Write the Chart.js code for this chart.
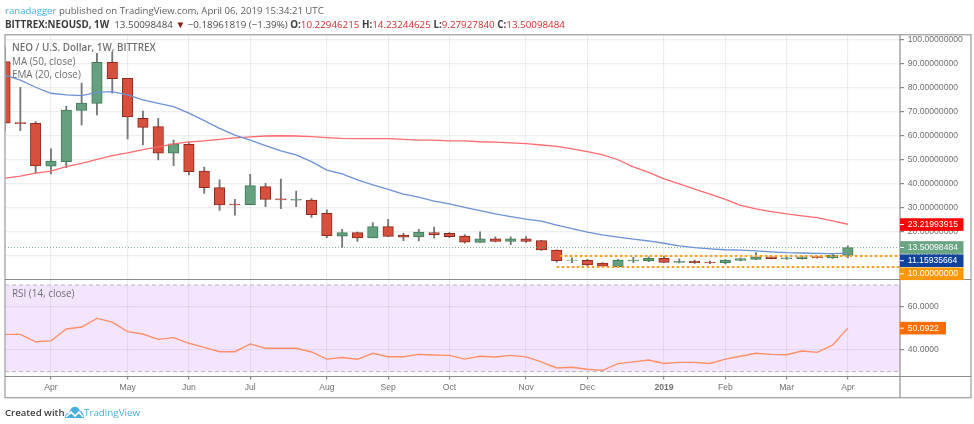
<!DOCTYPE html>
<html>
<head>
<meta charset="utf-8">
<title>NEO / U.S. Dollar</title>
<script src="https://cdn.jsdelivr.net/npm/chart.js@4/dist/chart.umd.min.js"></script>
<style>
html,body{margin:0;padding:0;background:#fff;width:974px;height:424px;overflow:hidden}
#wrap{position:relative;width:974px;height:424px;filter:blur(0.35px)}
canvas{position:absolute;left:0;top:0}
.t{position:absolute;white-space:nowrap;font-family:"Open Sans",sans-serif}
#h1{left:5px;top:3px;font-size:9.6px;line-height:15px;color:#606060}
#h1 b{font-weight:400;color:#45b0e0}
#h2{left:5px;top:17px;font-size:9.8px;line-height:15px;color:#4a4a4a}
#h2 b{font-weight:700;color:#3c3c3c}
#h2 i{font-style:normal;color:#d32f2f}
#h2 u{text-decoration:none;color:#8b1a10}
.leg{left:12px;font-size:9.9px;line-height:13px;color:#707070}
#footA{left:5px;top:406px;font-size:9.6px;line-height:14px;color:#3c3c3c;font-weight:600}
#footB{left:84px;top:406px;font-size:9.8px;line-height:14px;color:#45b0e0}
#logo{position:absolute;left:65px;top:406px}
</style>
</head>
<body>
<div id="wrap">
<canvas id="c" width="974" height="424"></canvas>
<div class="t" id="h1"><b>ranadagger</b> published on TradingView.com, April 06, 2019 15:34:21 UTC</div>
<div class="t" id="h2"><b>BITTREX:NEOUSD, 1W</b>&nbsp; 13.50098484 <u>▼</u> −0.18961819 (−1.39%) <b>O:</b><i>10.22946215</i> <b>H:</b><i>14.23244625</i> <b>L:</b><i>9.27927840</i> <b>C:</b><i>13.50098484</i></div>
<div class="t leg" style="top:41px;font-weight:600">NEO / U.S. Dollar, 1W, BITTREX</div>
<div class="t leg" style="top:54.5px">MA (50, close)</div>
<div class="t leg" style="top:68px">EMA (20, close)</div>
<div class="t leg" style="top:287px">RSI (14, close)</div>
<div class="t" id="footA">Created with</div>
<svg id="logo" width="19" height="13" viewBox="0 0 19 13"><path d="M0 12 C0 8 2 7 4 7 C5 3 8 0 11 1 C13 1 14 3 15 5 C17 5 19 8 19 12 Z" fill="#45b0e0"/><path d="M1 11 L6 6 L10 10 L14 6 L18 11" fill="none" stroke="#fff" stroke-width="1.6"/></svg>
<div class="t" id="footB">TradingView</div>
</div>
<script>
const opens  = [91,65.6,65.3,47.4,49.3,70.7,73.6,90.7,84,67.4,63.9,52.8,56.5,45.4,38.5,31.6,31.4,38.9,33.8,33.3,33.3,27.8,18.3,19.7,17.5,22.2,18.75,17.9,19.7,19.4,18.3,15.7,17.1,16.1,17.1,16.4,12.5,8.1,8.2,7,5.55,7.9,8,9,7.3,7.8,7.5,7.1,8.1,8.6,9.6,8.9,8.9,9.7,9.2,10.22946215];
const closes = [65.3,65.1,47.5,49.5,70.8,73.75,90.7,83.9,67.9,63.6,52.8,56.7,45.1,38.5,31.25,31.3,39.3,33.6,33.4,33.6,27.2,18.5,19.7,17.5,22.2,18.2,17.8,20,18.9,18,15.8,17.1,16.1,17.1,16.1,12.5,8,8.3,6.25,5.8,8.3,8.3,9,7.3,7.8,7.2,7.1,8.3,8.9,9.6,8.9,9.2,9.6,9.3,10.3,13.50098484];
const highs  = [97,80.3,66,54.6,72.5,82,94.4,95,84,70.4,67.4,58.3,57,47,41.7,33.6,44,40.3,42,37,33.9,29.2,21.1,20,23.9,25.3,19.4,21.1,22,19.7,18.9,20.1,18,18,18.1,16.5,12.6,9.2,8.6,7.2,8.6,9.4,9.6,10,8.8,8.3,7.9,8.5,9.1,11.4,9.9,9.4,9.9,10,10.7,14.23244625];
const lows   = [62,62.2,44.4,44.2,46.8,64.6,68.75,77.8,58.75,56.25,50,47.6,43.75,36.1,29,27,31.4,30.5,29.7,30.5,26.1,17.6,13.6,16.1,17.5,18,16.4,16.25,17.5,17.6,15.3,15.6,15.9,14.7,15.7,12.3,7.4,7.2,5.9,5.6,5.4,7.2,7.6,7.2,7.1,6.9,6.8,6.7,7.9,8.5,8.8,8.6,8.7,9.1,9,9.27927840];
const maLine  = [85.4,83.3,80.3,77.8,77.1,76.8,78.2,78.5,77.1,75,73.6,72.2,69.5,66.4,63.2,60.4,58.3,56,53.8,52.1,49.3,45.8,44.2,41.7,39.6,37.8,35.8,34.5,32.9,31.7,30.3,28.9,27.5,26.4,25.4,24.5,22.9,21.4,19.9,18.75,17.9,17,16.25,15.3,14.2,13.5,13,12.6,12.4,12.1,11.7,11.4,11.25,11.1,11,11.15935664];
const emaLine = [42.4,43.3,44.5,45.4,47.2,48.6,50.3,51.8,53,54.3,55.5,56.7,57.5,58,58.6,59.2,59.6,60,60.1,60,59.7,59.3,59,58.9,58.9,58.9,58.6,58.3,58.3,58,58,57.6,57.4,57.1,56.8,56.25,55.7,54.6,53.5,52.1,50.1,47.1,44.8,42.1,40,37.9,35.8,33.6,31.1,29.6,28.5,27.5,26.7,26,24.6,23.21993915];
const rsiLine = [47.2,47.2,43.8,44.2,49.7,50.6,54.6,52.9,48.5,47.4,44.9,45.7,43.1,41.2,39.2,39.2,42.8,40.8,40.8,40.8,39.1,35.8,36.5,35.7,38.5,36.9,36.9,38,37.7,37.5,35.8,37.1,36.8,37.5,36.8,34.5,31.7,32,31.1,30.6,33.7,34.5,35.4,33.8,34.3,34.3,33.8,35.8,37.1,38.5,38,37.8,39.5,38.9,42.2,50.0922];
const monthTicks  = [3,8,12,16,21,25,29,34,38,43,47,51,55];
const monthLabels = ["Apr","May","Jun","Jul","Aug","Sep","Oct","Nov","Dec","2019","Feb","Mar","Apr"];
const priceTicks  = [10,20,30,40,50,60,70,80,90,100];
const rsiTicks    = [40,60];
const rsiBands    = [70,30];
const supportLevels = [10,5.4];
const supportStart  = [36.2,36];

const LEFT_INDEX = 0, RIGHT_INDEX = 58.4;
const GREEN = "#66a17f", GREEN_D = "#3f7a58", RED = "#d6503d", RED_D = "#8e2a1d";
const isUp = i => closes[i] >= opens[i];

const overlays = {
  id: "overlays",
  beforeDatasetsDraw(chart) {
    const {ctx, chartArea: a, scales: {rsi}} = chart;
    const y70 = rsi.getPixelForValue(rsiBands[0]), y30 = rsi.getPixelForValue(rsiBands[1]);
    ctx.save();
    ctx.fillStyle = "rgba(152,0,255,0.1)";
    ctx.fillRect(a.left, y70, a.right - a.left, y30 - y70);
    ctx.strokeStyle = "#b8b0bc"; ctx.lineWidth = 1; ctx.setLineDash([4,3]);
    [y70, y30].forEach(y => { ctx.beginPath(); ctx.moveTo(a.left,y); ctx.lineTo(a.right,y); ctx.stroke(); });
    ctx.restore();
  },
  afterDraw(chart) {
    const {ctx, chartArea: a, scales: {x, y, rsi}} = chart;
    ctx.save();
    const frameR = y.right, frameB = x.bottom;
    ctx.strokeStyle = "#a9a9a9"; ctx.lineWidth = 1.4;
    ctx.strokeRect(a.left, a.top, frameR - a.left, frameB - a.top);
    ctx.strokeStyle = "#8c8c8c"; ctx.lineWidth = 1.2;
    [y.bottom, rsi.bottom].forEach(v => { ctx.beginPath(); ctx.moveTo(a.left,v); ctx.lineTo(frameR,v); ctx.stroke(); });
    ctx.beginPath(); ctx.moveTo(a.right,a.top); ctx.lineTo(a.right,frameB); ctx.stroke();

    const badge = (scale, value, dy, digits, color, w) => {
      const c = scale.getPixelForValue(value) + dy;
      ctx.fillStyle = color;
      ctx.fillRect(a.right, c - 6.3, w, 12.6);
      ctx.strokeStyle = "#fff"; ctx.lineWidth = 1;
      ctx.beginPath(); ctx.moveTo(a.right, c); ctx.lineTo(a.right + 4, c); ctx.stroke();
      ctx.fillStyle = "#fff";
      ctx.font = "8.6px 'Liberation Sans'";
      ctx.textAlign = "left"; ctx.textBaseline = "middle";
      ctx.fillText(value.toFixed(digits), a.right + 7.8, c + 0.3);
    };
    badge(y, emaLine[emaLine.length-1], 0.3, 8, "#ff0000", 63.5);
    badge(y, closes[closes.length-1], -0.1, 8, "#6aa583", 63.5);
    badge(y, maLine[maLine.length-1], 7.5, 8, "#12439b", 63.5);
    badge(y, supportLevels[0], 17.8, 8, "#ff9800", 63.5);
    badge(rsi, rsiLine[rsiLine.length-1], 0, 4, "#ff6d00", 46);
    ctx.restore();
  }
};

const idx = opens.map((_, i) => i);
const gridColor = "rgba(0,0,0,0.065)";
const tickFont = {family: "'Liberation Sans'", size: 8.6};

new Chart(document.getElementById("c"), {
  data: {
    datasets: [
      {type:"bar", label:"wick", order:5, grouped:false, barThickness:1.2, yAxisID:"y",
       backgroundColor:"#777777", borderWidth:0,
       data: idx.map(i => ({x:i, y:[lows[i], highs[i]]}))},
      {type:"bar", label:"body", order:4, grouped:false, barThickness:10.5, yAxisID:"y",
       backgroundColor: c => isUp(c.dataIndex) ? GREEN : RED,
       borderColor: c => isUp(c.dataIndex) ? GREEN_D : RED_D,
       borderWidth:1, borderSkipped:false,
       data: idx.map(i => ({x:i, y:[opens[i], closes[i]]}))},
      {type:"line", label:"Last", order:3, yAxisID:"y", borderColor:"#6aa583", borderWidth:0.9, borderDash:[1,2], pointRadius:0,
       data:[{x:LEFT_INDEX,y:closes[closes.length-1]},{x:RIGHT_INDEX,y:closes[closes.length-1]}]},
      ...supportLevels.map((v,n) => ({type:"line", label:"Support "+v, order:3, yAxisID:"y", borderColor:"#ff9d1e", borderWidth:2.1, borderDash:[2.6,2.4], pointRadius:0,
       data:[{x:supportStart[n],y:v},{x:RIGHT_INDEX,y:v}]})),
      {type:"line", label:"MA (50, close)", order:2, yAxisID:"y", borderColor:"#6a92d6", borderWidth:1.3, pointRadius:0, tension:0,
       data: idx.map(i => ({x:i, y:maLine[i]}))},
      {type:"line", label:"EMA (20, close)", order:2, yAxisID:"y", borderColor:"#ff6a6f", borderWidth:1.3, pointRadius:0, tension:0,
       data: idx.map(i => ({x:i, y:emaLine[i]}))},
      {type:"line", label:"RSI (14, close)", order:1, yAxisID:"rsi", borderColor:"#ff8f66", borderWidth:1.4, pointRadius:0, tension:0,
       data: idx.map(i => ({x:i, y:rsiLine[i]}))}
    ]
  },
  options: {
    responsive:false, animation:false, events:[],
    layout:{padding:{left:5, top:34.7, right:3, bottom:26.3}},
    plugins:{legend:{display:false}, tooltip:{enabled:false}},
    scales:{
      x:{type:"linear", min:LEFT_INDEX, max:RIGHT_INDEX, weight:10, offset:false,
        border:{display:false},
        grid:{offset:false, color:gridColor, lineWidth:1.2, tickColor:"#888", tickLength:3},
        afterBuildTicks: s => { s.ticks = monthTicks.map(v => ({value:v})); },
        afterFit: s => { s.height = 21.2; },
        ticks:{autoSkip:false, maxRotation:0, padding:3, color:"#707070",
          font: c => ({...tickFont, weight: monthLabels[monthTicks.indexOf(c.tick && c.tick.value)]==="2019" ? "bold":"normal"}),
          callback: v => monthLabels[monthTicks.indexOf(v)]}},
      y:{type:"linear", position:"right", stack:"panes", stackWeight:244.8, weight:0, min:0.2, max:102.2,
        border:{display:false},
        grid:{color:gridColor, lineWidth:1.2, tickColor:"#888", tickLength:4},
        afterBuildTicks: s => { s.ticks = priceTicks.map(v => ({value:v})); },
        afterFit: s => { s.width = 71; },
        ticks:{padding:3.8, color:"#707070", font:tickFont, callback: v => v.toFixed(8)}},
      rsi:{type:"linear", position:"right", stack:"panes", stackWeight:97, weight:1, min:27.76, max:72.56,
        border:{display:false},
        grid:{color:gridColor, lineWidth:1.2, tickColor:"#888", tickLength:4},
        afterBuildTicks: s => { s.ticks = rsiTicks.map(v => ({value:v})); },
        afterFit: s => { s.width = 71; },
        ticks:{padding:3.8, color:"#707070", font:tickFont, callback: v => v.toFixed(4)}}
    }
  },
  plugins:[overlays]
});
</script>
</body>
</html>
